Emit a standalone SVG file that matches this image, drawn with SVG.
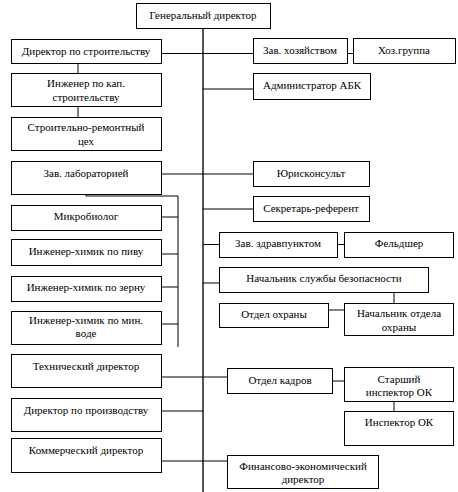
<svg xmlns="http://www.w3.org/2000/svg" width="458" height="492" viewBox="0 0 458 492">
<style>
rect{fill:#fff;stroke:#000;stroke-width:1}
text{font-family:"Liberation Serif","Times New Roman",serif;font-size:11px;fill:#000;text-anchor:middle}
.c{fill:none;stroke:#000;stroke-width:1}
.m{fill:none;stroke:#555;stroke-width:2}
</style>
<rect width="458" height="492" style="fill:#fff;stroke:none"/>
<g id="connectors">
<path class="m" d="M203 28V492"/>
<path class="c" d="M161 53.5H253M347 53.5H353M78 63V73M78 106V117M203 89H253M161 174H253M203 209H253M203 244.5H219M337 244.5H344M203 283H219M394 292V303M328 310H344M86 188V196H178V347M161 217H178M161 254H178M161 287H178M161 324H178M161 377H227M332 381H344M394 401V411M161 411H203M161 461H227"/>
</g>
<g id="gen"><rect x="136.5" y="3.5" width="134" height="25"/><text x="203" y="19">Генеральный директор</text></g>
<g id="dir-str"><rect x="11.5" y="39.5" width="150" height="24"/><text x="86" y="55">Директор по строительству</text></g>
<g id="ing-kap"><rect x="11.5" y="73.5" width="150" height="33"/><text x="86" y="87">Инженер по кап.</text><text x="86" y="101">строительству</text></g>
<g id="srts"><rect x="11.5" y="117.5" width="150" height="33"/><text x="86" y="131">Строительно-ремонтный</text><text x="86" y="145">цех</text></g>
<g id="zav-hoz"><rect x="253.5" y="38.5" width="94" height="25"/><text x="300" y="54">Зав. хозяйством</text></g>
<g id="hoz"><rect x="353.5" y="38.5" width="102" height="25"/><text x="404" y="54">Хоз.группа</text></g>
<g id="abk"><rect x="253.5" y="73.5" width="117" height="26"/><text x="312" y="89">Администратор АБК</text></g>
<g id="zav-lab"><rect x="11.5" y="161.5" width="150" height="33"/><text x="86" y="177">Зав. лабораторией</text></g>
<g id="mikro"><rect x="11.5" y="205.5" width="150" height="25"/><text x="86" y="220">Микробиолог</text></g>
<g id="pivo"><rect x="11.5" y="239.5" width="150" height="26"/><text x="86" y="255">Инженер-химик по пиву</text></g>
<g id="zerno"><rect x="11.5" y="276.5" width="150" height="25"/><text x="86" y="291">Инженер-химик по зерну</text></g>
<g id="voda"><rect x="11.5" y="311.5" width="150" height="33"/><text x="86" y="324">Инженер-химик по мин.</text><text x="86" y="337">воде</text></g>
<g id="yur"><rect x="253.5" y="161.5" width="116" height="25"/><text x="311" y="177">Юрисконсульт</text></g>
<g id="sekr"><rect x="253.5" y="196.5" width="116" height="25"/><text x="311" y="212">Секретарь-референт</text></g>
<g id="zdrav"><rect x="219.5" y="232.5" width="118" height="25"/><text x="278" y="247">Зав. здравпунктом</text></g>
<g id="feld"><rect x="344.5" y="232.5" width="109" height="25"/><text x="399" y="247">Фельдшер</text></g>
<g id="sb"><rect x="219.5" y="267.5" width="209" height="25"/><text x="324" y="282">Начальник службы безопасности</text></g>
<g id="ohr"><rect x="219.5" y="303.5" width="109" height="24"/><text x="274" y="318">Отдел охраны</text></g>
<g id="nach-ohr"><rect x="344.5" y="303.5" width="109" height="32"/><text x="399" y="317">Начальник отдела</text><text x="399" y="331">охраны</text></g>
<g id="tech"><rect x="11.5" y="354.5" width="150" height="33"/><text x="86" y="370">Технический директор</text></g>
<g id="proizv"><rect x="11.5" y="398.5" width="150" height="33"/><text x="86" y="414">Директор по производству</text></g>
<g id="komm"><rect x="11.5" y="438.5" width="150" height="34"/><text x="86" y="454">Коммерческий директор</text></g>
<g id="kadry"><rect x="227.5" y="368.5" width="105" height="25"/><text x="280" y="384">Отдел кадров</text></g>
<g id="st-insp"><rect x="344.5" y="367.5" width="109" height="34"/><text x="399" y="383">Старший</text><text x="399" y="396">инспектор ОК</text></g>
<g id="insp"><rect x="344.5" y="411.5" width="109" height="34"/><text x="399" y="426">Инспектор ОК</text></g>
<g id="fin"><rect x="227.5" y="455.5" width="151" height="33"/><text x="303" y="470">Финансово-экономический</text><text x="303" y="483">директор</text></g>
</svg>
